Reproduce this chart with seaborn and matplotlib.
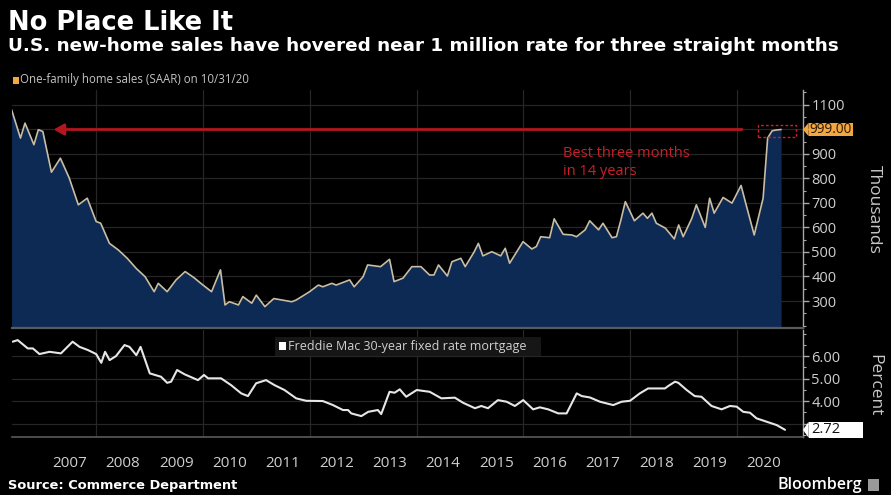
import pandas as pd
import matplotlib
matplotlib.use("Agg")
import matplotlib.pyplot as plt
import matplotlib.dates as mdates
import matplotlib.ticker as mticker
import matplotlib.transforms as mtransforms
from matplotlib.patches import Rectangle, Polygon
import seaborn as sns

# ---- New one-family home sales, SAAR (thousands), month of observation ----
sales_months = [
    "2006-05", "2006-07", "2006-08", "2006-10", "2006-11", "2006-12",
    "2007-02", "2007-04", "2007-06", "2007-08", "2007-10", "2007-12",
    "2008-01", "2008-03", "2008-05", "2008-07", "2008-09", "2008-11",
    "2009-01", "2009-02", "2009-04", "2009-06", "2009-08", "2009-10", "2009-12",
    "2010-02", "2010-04", "2010-05", "2010-06", "2010-08", "2010-09", "2010-11", "2010-12",
    "2011-02", "2011-04", "2011-08", "2011-09", "2011-12",
    "2012-02", "2012-03", "2012-05", "2012-06", "2012-09", "2012-10", "2012-12",
    "2013-01", "2013-04", "2013-06", "2013-07", "2013-09", "2013-11",
    "2014-01", "2014-03", "2014-04", "2014-05", "2014-07", "2014-08", "2014-10", "2014-11",
    "2015-01", "2015-02", "2015-03", "2015-05", "2015-07", "2015-08", "2015-09", "2015-12",
    "2016-02", "2016-03", "2016-04", "2016-06", "2016-07", "2016-09", "2016-11", "2016-12",
    "2017-02", "2017-03", "2017-05", "2017-06", "2017-08", "2017-09", "2017-10", "2017-11",
    "2018-01", "2018-03", "2018-04", "2018-05", "2018-06", "2018-08", "2018-10", "2018-11", "2018-12",
    "2019-02", "2019-03", "2019-05", "2019-06", "2019-07", "2019-09", "2019-11",
    "2020-01", "2020-02", "2020-04", "2020-06", "2020-07", "2020-08", "2020-09", "2020-10",
]
sales_values = [
    1080, 964, 1025, 937, 998, 991,
    825, 882, 801, 692, 719, 624,
    617, 535, 508, 474, 433, 399,
    338, 372, 338, 386, 420, 395, 365,
    338, 427, 284, 297, 284, 318, 291, 324,
    277, 310, 297, 304, 338,
    365, 358, 372, 365, 386, 358, 399,
    447, 440, 470, 379, 393, 440,
    440, 406, 406, 447, 402, 460, 474, 440,
    501, 535, 484, 501, 484, 515, 454, 542,
    512, 522, 562, 558, 635, 572, 569, 562,
    590, 627, 590, 617, 558, 562, 631, 705,
    627, 658, 637, 658, 617, 597, 553, 610, 562,
    637, 692, 600, 719, 658, 722, 699,
    771, 705, 569, 719, 964, 994, 997, 999,
]

# ---- Freddie Mac 30-year fixed rate mortgage (percent) ----
rate_dates = [
    "2006-06-08", "2006-07-12", "2006-09-19", "2006-10-24", "2006-12-08",
    "2007-02-15", "2007-05-04", "2007-07-23", "2007-09-08", "2007-11-04", "2007-12-31",
    "2008-02-04", "2008-03-01", "2008-04-01", "2008-05-15", "2008-07-12", "2008-08-15",
    "2008-10-01", "2008-10-30",
    "2009-01-01", "2009-03-19", "2009-04-30", "2009-05-27", "2009-07-07", "2009-08-27",
    "2009-11-27",
    "2010-01-07", "2010-02-04", "2010-05-04", "2010-07-11", "2010-09-19", "2010-11-04",
    "2010-12-30",
    "2011-03-08", "2011-05-04", "2011-07-12", "2011-09-30", "2011-12-08",
    "2012-03-30", "2012-06-08", "2012-08-15", "2012-09-19", "2012-10-11", "2012-12-19",
    "2013-02-04", "2013-04-11", "2013-05-04", "2013-06-30", "2013-08-04", "2013-09-08",
    "2013-10-22",
    "2014-01-02", "2014-04-01", "2014-06-20", "2014-09-20", "2014-11-16",
    "2015-02-05", "2015-03-20", "2015-05-05", "2015-07-12", "2015-09-09", "2015-11-05",
    "2016-01-01", "2016-03-09", "2016-04-24", "2016-06-20", "2016-08-28", "2016-10-24",
    "2017-01-01", "2017-02-05", "2017-04-01", "2017-06-09", "2017-09-08", "2017-11-05",
    "2018-01-01", "2018-03-09", "2018-05-05", "2018-08-28", "2018-09-20", "2018-11-05",
    "2018-11-28",
    "2019-01-24", "2019-03-20", "2019-05-05", "2019-07-13", "2019-09-20", "2019-11-16",
    "2020-01-01", "2020-02-15", "2020-04-01", "2020-05-16", "2020-07-24", "2020-10-01",
    "2020-11-27",
]
rate_values = [
    6.64, 6.71, 6.34, 6.34, 6.09,
    6.19, 6.12, 6.64, 6.41, 6.27, 6.09,
    5.70, 6.19, 5.82, 6.00, 6.49, 6.41,
    6.04, 6.41,
    5.23, 5.08, 4.81, 4.86, 5.38, 5.19,
    4.93,
    5.16, 5.01, 5.01, 4.71, 4.34, 4.22,
    4.79,
    4.93, 4.71, 4.49, 4.12, 4.01,
    4.00, 3.82, 3.60, 3.60, 3.45, 3.33,
    3.52, 3.60, 3.42, 4.41, 4.37, 4.52,
    4.19,
    4.49, 4.41, 4.12, 4.15, 3.92,
    3.68, 3.78, 3.68, 4.04, 3.97, 3.78,
    4.04, 3.63, 3.72, 3.63, 3.45, 3.45,
    4.34, 4.22, 4.16, 3.97, 3.82, 3.97,
    4.01, 4.34, 4.56, 4.56, 4.67, 4.86,
    4.81,
    4.49, 4.22, 4.19, 3.78, 3.63, 3.78,
    3.75, 3.52, 3.48, 3.23, 3.08, 2.93,
    2.72,
]

year_labels = ["2007", "2008", "2009", "2010", "2011", "2012", "2013",
               "2014", "2015", "2016", "2017", "2018", "2019", "2020"]
sales_ticks = [300, 400, 500, 600, 700, 800, 900, 1000, 1100]
sales_tick_labels = ["300", "400", "500", "600", "700", "800", "900", "", "1100"]
rate_ticks = [3.0, 4.0, 5.0, 6.0]
rate_tick_labels = ["", "4.00", "5.00", "6.00"]

sales = pd.DataFrame({
    "date": pd.to_datetime(sales_months) + pd.offsets.MonthEnd(0),
    "sales": sales_values,
})
rates = pd.DataFrame({"date": pd.to_datetime(rate_dates), "rate": rate_values})

# ---- styling ----
BG = "#000000"
GRID = "#262626"
TXT = "#cfcfcf"
NAVY = "#0d2a55"
RED = "#b3161e"
ORANGE = "#f4a640"

sns.set_theme(style="dark", rc={
    "figure.facecolor": BG, "axes.facecolor": BG, "savefig.facecolor": BG,
    "axes.edgecolor": "#9a9a9a", "text.color": TXT,
    "xtick.color": TXT, "ytick.color": TXT,
})
plt.rcParams["font.family"] = ["DejaVu Sans"]

W, H = 891, 495
fig = plt.figure(figsize=(W / 100, H / 100), dpi=100)


def px_rect(x0, y0, x1, y1):
    return [x0 / W, 1 - y1 / H, (x1 - x0) / W, (y1 - y0) / H]


ax1 = fig.add_axes(px_rect(12, 90, 803, 328))
ax2 = fig.add_axes(px_rect(12, 330, 803, 437))

x_left, x_right = pd.Timestamp("2006-06-03"), pd.Timestamp("2021-03-30")
even_years = [pd.Timestamp(f"{y}-01-01") for y in range(2008, 2021, 2)]

for ax in (ax1, ax2):
    ax.set_xlim(x_left, x_right)
    for s in ("top", "left"):
        ax.spines[s].set_visible(False)
    ax.spines["right"].set_color("#a8a8a8")
    ax.spines["right"].set_linewidth(1.0)
    ax.yaxis.tick_right()
    ax.grid(axis="y", color=GRID, lw=0.9)
    ax.grid(axis="x", visible=False)
    for d in even_years:
        ax.axvline(d, color=GRID, lw=0.9, zorder=0)
    ax.tick_params(axis="y", which="both", direction="out", color="#a8a8a8",
                   labelsize=10.5, pad=2, labelfontfamily="Open Sans")
    ax.tick_params(axis="y", which="major", length=4, width=1)
    ax.tick_params(axis="y", which="minor", length=2, width=0.8, right=True)

# ---- top panel: home sales ----
ax1.fill_between(sales["date"], sales["sales"], 0, color=NAVY, lw=0, zorder=1)
sns.lineplot(data=sales, x="date", y="sales", ax=ax1, color="#c9bda4", lw=1.2, zorder=2)
ax1.set_ylim(190, 1160)
ax1.set_yticks(sales_ticks)
ax1.set_yticklabels(sales_tick_labels)
ax1.yaxis.set_minor_locator(mticker.MultipleLocator(50))
ax1.tick_params(axis="x", which="both", length=0, labelbottom=False)
ax1.spines["bottom"].set_color("#5a5a5a")
ax1.spines["bottom"].set_linewidth(1.6)
ax1.set_xlabel("")
ax1.set_ylabel("")

# annotation: level line back to the last time sales were this high
last_val = sales_values[-1]
ax1.annotate("", xy=(pd.Timestamp("2007-03-15"), last_val),
             xytext=(pd.Timestamp("2020-02-07"), last_val),
             arrowprops=dict(arrowstyle="-|>,head_width=0.28,head_length=0.5",
                             color=RED, lw=2.0, shrinkA=0, shrinkB=0), zorder=3)
box_l = mdates.date2num(pd.Timestamp("2020-05-25"))
box_r = mdates.date2num(pd.Timestamp("2021-02-12"))
ax1.add_patch(Rectangle((box_l, 969), box_r - box_l, 49, fill=False, ec="#c8202a",
                        lw=1.0, ls=(0, (2, 1.5)), zorder=4))
ax1.text(pd.Timestamp("2016-10-01"), 930, "Best three months\nin 14 years",
         color="#c8202a", fontsize=10.5, va="top", ha="left", linespacing=1.25,
         family="Open Sans", zorder=4)

# last value tag on the right axis
bt1 = mtransforms.blended_transform_factory(ax1.transAxes, ax1.transData)
ax1.add_patch(Polygon([(1.0, last_val), (1.0072, last_val + 28), (1.0072, last_val - 28)],
                      closed=True, transform=bt1, clip_on=False, fc=ORANGE, ec="none", zorder=5))
ax1.add_patch(Rectangle((1.0070, last_val - 28), 0.056, 56, transform=bt1, clip_on=False,
                        fc=ORANGE, ec="none", zorder=5))
ax1.text(1.0085, last_val, f"{last_val:.2f}", transform=bt1, color="#2a1800",
         fontsize=9.8, va="center", ha="left", family="Open Sans", zorder=6)

# ---- bottom panel: mortgage rate ----
sns.lineplot(data=rates, x="date", y="rate", ax=ax2, color="#e6e6e6", lw=1.5, zorder=2)
ax2.set_ylim(2.4, 7.16)
ax2.set_yticks(rate_ticks)
ax2.set_yticklabels(rate_tick_labels)
ax2.yaxis.set_minor_locator(mticker.MultipleLocator(0.5))
ax2.spines["bottom"].set_color("#5a5a5a")
ax2.spines["bottom"].set_linewidth(1.2)
ax2.xaxis.set_major_locator(mdates.YearLocator(1))
ax2.xaxis.set_major_formatter(mticker.NullFormatter())
ax2.set_xticks([pd.Timestamp(f"{y}-07-01") for y in year_labels], labels=year_labels, minor=True)
ax2.tick_params(axis="x", which="major", length=27, width=1, color="#4a4a4a", direction="out")
ax2.tick_params(axis="x", which="minor", length=0, pad=14, labelsize=11, labelcolor=TXT,
                labelfontfamily="Open Sans")
ax2.set_xlabel("")
ax2.set_ylabel("")

last_rate = rate_values[-1]
bt2 = mtransforms.blended_transform_factory(ax2.transAxes, ax2.transData)
ax2.add_patch(Polygon([(1.0, last_rate), (1.0072, last_rate + 0.36), (1.0072, last_rate - 0.36)],
                      closed=True, transform=bt2, clip_on=False, fc="white", ec="none", zorder=5))
ax2.add_patch(Rectangle((1.0070, last_rate - 0.36), 0.069, 0.72, transform=bt2, clip_on=False,
                        fc="white", ec="none", zorder=5))
ax2.text(1.0105, last_rate, f"{last_rate:.2f}", transform=bt2, color="#111111",
         fontsize=10.5, va="center", ha="left", family="Open Sans", zorder=6)

# ---- legends ----
fig.patches.append(Rectangle((13 / W, 1 - 84 / H), 6 / W, 7 / H, transform=fig.transFigure,
                             fc=ORANGE, ec="none"))
fig.text(20 / W, 1 - 80 / H, "One-family home sales (SAAR) on 10/31/20", color="#c4c4c4",
         fontsize=8.3, va="center", ha="left", family="Open Sans")

fig.patches.append(Rectangle((275 / W, 1 - 356 / H), 266 / W, 19 / H, transform=fig.transFigure,
                             fc="#161616", ec="none", zorder=3))
fig.patches.append(Rectangle((279 / W, 1 - 350 / H), 7 / W, 8 / H, transform=fig.transFigure,
                             fc="white", ec="none", zorder=4))
fig.text(288 / W, 1 - 346.5 / H, "Freddie Mac 30-year fixed rate mortgage", color="#d0d0d0",
         fontsize=9, va="center", ha="left", family="Open Sans", zorder=5)

# ---- axis titles ----
fig.text(874 / W, 1 - 209 / H, "Thousands", rotation=270, color="#c8c8c8", fontsize=12.5,
         va="center", ha="center", family="Open Sans")
fig.text(874 / W, 1 - 385 / H, "Percent", rotation=270, color="#c8c8c8", fontsize=12.5,
         va="center", ha="center", family="Open Sans")

# ---- headline, subtitle, footer ----
fig.text(8 / W, 1 - 23 / H, "No Place Like It", color="white", fontsize=18.5,
         fontweight="bold", va="center", ha="left")
fig.text(8 / W, 1 - 46 / H,
         "U.S. new-home sales have hovered near 1 million rate for three straight months",
         color="white", fontsize=13.2, fontweight="bold", va="center", ha="left")
fig.text(8 / W, 1 - 486 / H, "Source: Commerce Department", color="white", fontsize=9.4,
         fontweight="bold", va="center", ha="left")
fig.text(862 / W, 1 - 485 / H, "Bloomberg", color="white", fontsize=11.5, fontweight="semibold",
         va="center", ha="right", family="Open Sans")
fig.patches.append(Rectangle((868 / W, 1 - 491 / H), 11 / W, 12 / H, transform=fig.transFigure,
                             fc="#9a9a9a", ec="none"))

fig.savefig("out.png", dpi=100, facecolor=BG)
